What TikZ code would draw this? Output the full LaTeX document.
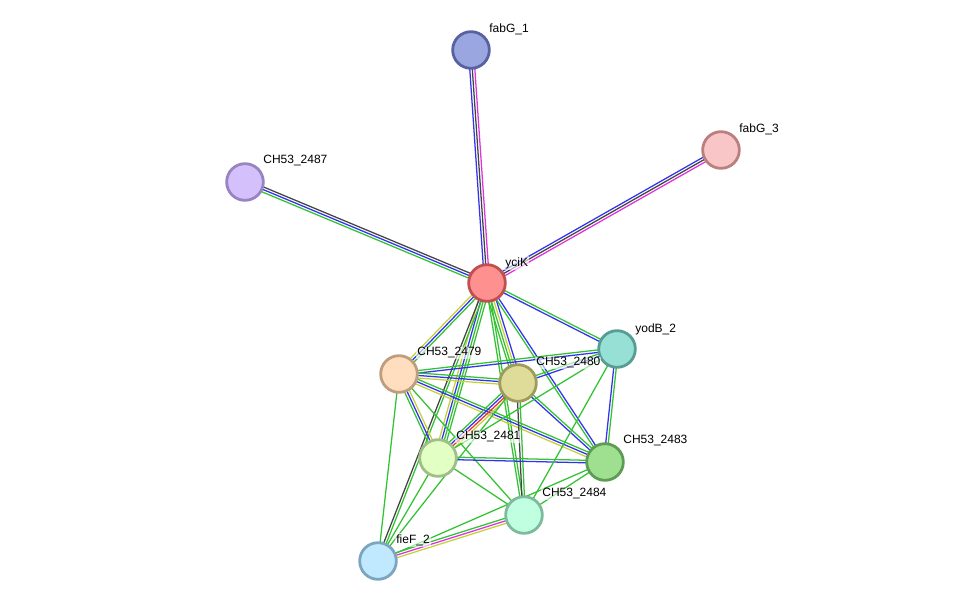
\documentclass[tikz,border=0pt]{standalone}
\usepackage{fontspec}
\setmainfont{Liberation Sans}
\usetikzlibrary{calc}
\pgfdeclarelayer{background}
\pgfsetlayers{background,main}
\definecolor{eg}{HTML}{33C233}
\definecolor{eb}{HTML}{3333EE}
\definecolor{ek}{HTML}{444444}
\definecolor{em}{HTML}{DD33DD}
\definecolor{ey}{HTML}{C4D23A}
\definecolor{er}{HTML}{EE3333}
\newcommand{\netedge}[3]{%
  \foreach \c/\o in {#3}{%
    \draw[\c, line width=0.95pt] ($(#1.center)!\o*1.9pt!90:(#2.center)$) -- ($(#2.center)!\o*1.9pt!-90:(#1.center)$);
  }}
\tikzset{
  prot/.style={circle, minimum size=27.5pt, inner sep=0pt, line width=2.1pt},
  lab/.style={anchor=west, font=\fontsize{9}{10}\selectfont, inner sep=0.8pt, fill=white, fill opacity=0.6, text opacity=1}
}
\begin{document}
\begin{tikzpicture}[x=0.75pt,y=-0.75pt]
\useasboundingbox (0,0) rectangle (975,606);
% nodes
\node[prot, fill={rgb,255:red,153;green,166;blue,224}, draw={rgb,255:red,88;green,98;blue,160}] (fabG1) at (471,50) {};
\node[prot, fill={rgb,255:red,248;green,198;blue,198}, draw={rgb,255:red,186;green,128;blue,128}] (fabG3) at (721,150) {};
\node[prot, fill={rgb,255:red,212;green,192;blue,250}, draw={rgb,255:red,152;green,132;blue,192}] (c2487) at (245,182) {};
\node[prot, fill={rgb,255:red,255;green,144;blue,144}, draw={rgb,255:red,192;green,80;blue,80}] (yciK) at (487,283) {};
\node[prot, fill={rgb,255:red,150;green,224;blue,214}, draw={rgb,255:red,88;green,156;blue,148}] (yodB) at (617,349) {};
\node[prot, fill={rgb,255:red,255;green,222;blue,192}, draw={rgb,255:red,190;green,158;blue,126}] (c2479) at (399,374) {};
\node[prot, fill={rgb,255:red,222;green,220;blue,152}, draw={rgb,255:red,158;green,156;blue,92}] (c2480) at (518,383) {};
\node[prot, fill={rgb,255:red,226;green,255;blue,196}, draw={rgb,255:red,160;green,190;blue,136}] (c2481) at (438,458) {};
\node[prot, fill={rgb,255:red,158;green,224;blue,144}, draw={rgb,255:red,94;green,156;blue,86}] (c2483) at (605,462) {};
\node[prot, fill={rgb,255:red,192;green,255;blue,224}, draw={rgb,255:red,124;green,188;blue,156}] (c2484) at (524,515) {};
\node[prot, fill={rgb,255:red,192;green,232;blue,255}, draw={rgb,255:red,124;green,166;blue,192}] (fieF) at (378,561) {};
% labels
\node[lab] (lfabG1) at (488,29) {fabG\_1};
\node[lab] (lfabG3) at (738,129) {fabG\_3};
\node[lab] (l2487) at (262,161) {CH53\_2487};
\node[lab] (lyciK) at (504,263) {yciK};
\node[lab] (lyodB) at (634,329) {yodB\_2};
\node[lab] (l2479) at (416,353) {CH53\_2479};
\node[lab] (l2480) at (535,363) {CH53\_2480};
\node[lab] (l2481) at (455,437) {CH53\_2481};
\node[lab] (l2483) at (622,441) {CH53\_2483};
\node[lab] (l2484) at (541,494) {CH53\_2484};
\node[lab] (lfieF) at (395,540) {fieF\_2};
% edges
\begin{pgfonlayer}{background}
\netedge{yciK}{fabG1}{em/-1,ek/0,eb/1}
\netedge{yciK}{fabG3}{em/-1,ek/0,eb/1}
\netedge{yciK}{c2487}{ek/-1,eb/0,eg/1}
\netedge{yciK}{yodB}{eb/-0.5,eg/0.5}
\netedge{yciK}{c2479}{ey/-1,eb/0,eg/1}
\netedge{yciK}{c2480}{eg/-1.5,eg/-0.5,ey/0.5,eb/1.5}
\netedge{yciK}{c2481}{ey/-1.5,eb/-0.5,eg/0.5,eg/1.5}
\netedge{yciK}{c2483}{eg/-0.5,eb/0.5}
\netedge{yciK}{c2484}{eg/-0.5,eg/0.5}
\netedge{yciK}{fieF}{ek/-0.5,eg/0.5}
\netedge{c2479}{yodB}{eb/-0.5,eg/0.5}
\netedge{c2479}{c2480}{ey/-1,eb/0,eg/1}
\netedge{c2479}{c2481}{eg/-1,eb/0,ey/1}
\netedge{c2479}{c2483}{ey/-1,eb/0,eg/1}
\netedge{c2479}{c2484}{eg/0}
\netedge{c2479}{fieF}{eg/0}
\netedge{c2480}{yodB}{eb/-0.5,eg/0.5}
\netedge{c2480}{c2481}{eg/-1.5,eb/-0.5,er/0.5,ey/1.5}
\netedge{c2480}{c2483}{eb/-0.5,eg/0.5}
\netedge{c2480}{c2484}{ek/-0.5,eg/0.5}
\netedge{c2480}{fieF}{eg/0}
\netedge{c2481}{yodB}{eg/0}
\netedge{c2481}{c2483}{eb/-0.5,eg/0.5}
\netedge{c2481}{c2484}{eg/0}
\netedge{c2481}{fieF}{eg/0}
\netedge{yodB}{c2483}{eb/-0.5,eg/0.5}
\netedge{yodB}{c2484}{eg/0}
\netedge{c2483}{c2484}{eg/0}
\netedge{c2483}{fieF}{eg/0}
\netedge{c2484}{fieF}{eg/-1,em/0,ey/1}
\end{pgfonlayer}
\end{tikzpicture}
\end{document}
